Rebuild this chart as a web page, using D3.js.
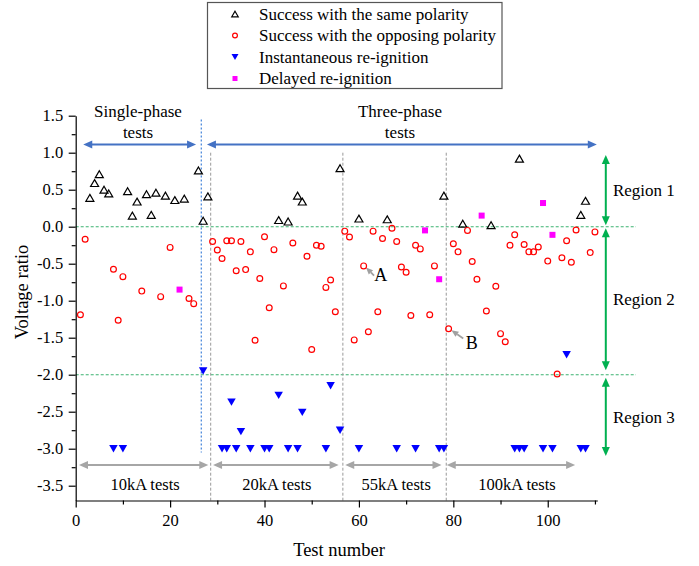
<!DOCTYPE html>
<html><head><meta charset="utf-8">
<script src="https://cdn.jsdelivr.net/npm/d3@7"></script>
<style>body{margin:0;background:#fff}</style>
</head><body>
<svg id="c" width="699" height="566" xmlns="http://www.w3.org/2000/svg"></svg>
<script>
// ---- data ----
const sameTests=[3,4,5,6,7,11,12,13,15,16,17,19,21,23,26,27,28,43,45,47,48,56,60,66,78,82,88,94,107,108];
const sameRatio=[0.39,0.59,0.71,0.50,0.45,0.48,0.15,0.34,0.44,0.16,0.46,0.42,0.36,0.38,0.76,0.08,0.41,0.09,0.07,0.42,0.34,0.79,0.11,0.10,0.42,0.04,0.02,0.92,0.16,0.35];
const oppTests=[1,2,8,9,10,14,18,20,24,25,29,30,31,32,33,34,35,36,37,38,39,40,41,42,44,46,49,50,51,52,53,54,55,57,58,59,61,62,63,64,65,67,68,69,70,71,72,73,75,76,79,80,81,83,84,85,87,89,90,91,92,93,95,96,97,98,100,102,103,104,105,106,109,110];
const oppRatio=[-1.19,-0.17,-0.575,-1.265,-0.675,-0.87,-0.945,-0.28,-0.97,-1.04,-0.20,-0.315,-0.43,-0.19,-0.19,-0.595,-0.20,-0.58,-0.34,-1.535,-0.70,-0.135,-1.095,-0.31,-0.80,-0.22,-0.40,-1.66,-0.25,-0.265,-0.82,-0.72,-1.15,-0.06,-0.14,-1.53,-0.53,-1.42,-0.06,-1.15,-0.16,-0.02,-0.20,-0.545,-0.615,-1.20,-0.25,-0.30,-1.19,-0.53,-1.38,-0.23,-0.34,-0.05,-0.47,-0.71,-1.14,-0.805,-1.445,-1.555,-0.25,-0.11,-0.24,-0.34,-0.34,-0.275,-0.465,-1.99,-0.42,-0.19,-0.48,-0.045,-0.35,-0.07];
const instTests=[8,10,27,31,32,33,34,35,37,40,41,43,45,47,48,53,54,56,60,68,72,77,78,93,94,95,99,101,104,107,108];
const instRatio=[-3,-3,-1.95,-3,-3,-2.37,-3,-2.77,-3,-3,-3,-2.28,-3,-3,-2.51,-3,-2.15,-2.75,-3,-3,-3,-3,-3,-3,-3,-3,-3,-3,-1.73,-3,-3];
const delTests=[22,74,77,86,99,101];
const delRatio=[-0.85,-0.05,-0.71,0.15,0.32,-0.11];

const legendLabels=["Success with the same polarity","Success with the opposing polarity","Instantaneous re-ignition","Delayed re-ignition"];
const xTickMajor=[0,20,40,60,80,100];
const xTickMinor=[10,30,50,70,90,110];
const yTickMajor=[1.5,1.0,0.5,0.0,-0.5,-1.0,-1.5,-2.0,-2.5,-3.0,-3.5];
const yTickLabels=["1.5","1.0","0.5","0.0","-0.5","-1.0","-1.5","-2.0","-2.5","-3.0","-3.5"];
const yTickMinor=[1.25,0.75,0.25,-0.25,-0.75,-1.25,-1.75,-2.25,-2.75,-3.25];
const phaseLabels=[{l1:"Single-phase",l2:"tests",cx:13.2,from:1.6,to:25.5},{l1:"Three-phase",l2:"tests",cx:68.7,from:27.8,to:110.4}];
const currentGroups=[{label:"10kA tests",from:0.7,to:28.1,cx:14.7},{label:"20kA tests",from:29.1,to:55.7,cx:42.6},{label:"55kA tests",from:57.1,to:77.5,cx:67.9},{label:"100kA tests",from:78.6,to:105.8,cx:93.5}];
const groupBounds=[28.6,56.6,78.5];
const phaseBound=26.6;
const regionBounds=[0,-2];
const regions=[{label:"Region 1",top:0.97,bot:0.02},{label:"Region 2",top:-0.02,bot:-1.94},{label:"Region 3",top:-2.04,bot:-3.1}];

// ---- drawing ----
const FONT='"Liberation Serif","Times New Roman",serif';
const svg=d3.select("#c");
const x=d3.scaleLinear().domain([0,110.5]).range([75.7,597.3]);
const y=d3.scaleLinear().domain([-3.7,1.5]).range([500.5,115.7]);

function triUp(s){const h=s*0.866;return `M0,${-h/2}L${s/2},${h/2}L${-s/2},${h/2}Z`;}
function triDown(s){const h=s*0.866;return `M0,${h/2}L${s/2},${-h/2}L${-s/2},${-h/2}Z`;}

// reference lines
const g0=svg.append("g");
g0.selectAll("line.rb").data(regionBounds).join("line")
  .attr("x1",x(0)).attr("x2",x(118.7)).attr("y1",d=>y(d)).attr("y2",d=>y(d))
  .attr("stroke","#3cb371").attr("stroke-width",1.1).attr("stroke-dasharray","3,2");
g0.selectAll("line.gb").data(groupBounds).join("line")
  .attr("x1",d=>x(d)).attr("x2",d=>x(d)).attr("y1",y(1.0)).attr("y2",y(-3.7))
  .attr("stroke","#999").attr("stroke-width",1).attr("stroke-dasharray","3,2");
g0.append("line").attr("x1",x(phaseBound)).attr("x2",x(phaseBound)).attr("y1",y(1.45)).attr("y2",y(-3.05))
  .attr("stroke","#2e75d6").attr("stroke-width",1.1).attr("stroke-dasharray","2,2");

// arrows helper
function dblArrowH(g,x1,x2,yy,color,w,hl,hw){
  g.append("line").attr("x1",x1+hl-1).attr("x2",x2-hl+1).attr("y1",yy).attr("y2",yy).attr("stroke",color).attr("stroke-width",w);
  g.append("path").attr("d",`M${x1},${yy}L${x1+hl},${yy-hw/2}L${x1+hl},${yy+hw/2}Z`).attr("fill",color);
  g.append("path").attr("d",`M${x2},${yy}L${x2-hl},${yy-hw/2}L${x2-hl},${yy+hw/2}Z`).attr("fill",color);
}
function dblArrowV(g,xx,y1,y2,color,w,hl,hw){
  g.append("line").attr("x1",xx).attr("x2",xx).attr("y1",y1+hl-1).attr("y2",y2-hl+1).attr("stroke",color).attr("stroke-width",w);
  g.append("path").attr("d",`M${xx},${y1}L${xx-hw/2},${y1+hl}L${xx+hw/2},${y1+hl}Z`).attr("fill",color);
  g.append("path").attr("d",`M${xx},${y2}L${xx-hw/2},${y2-hl}L${xx+hw/2},${y2-hl}Z`).attr("fill",color);
}
function arrowTo(g,x1,y1,x2,y2,color){
  const a=Math.atan2(y2-y1,x2-x1),hl=7,hw=6;
  const bx=x2-hl*Math.cos(a),by=y2-hl*Math.sin(a);
  g.append("line").attr("x1",x1).attr("y1",y1).attr("x2",bx).attr("y2",by).attr("stroke",color).attr("stroke-width",1.8);
  const px=-Math.sin(a)*hw/2,py=Math.cos(a)*hw/2;
  g.append("path").attr("d",`M${x2},${y2}L${bx+px},${by+py}L${bx-px},${by-py}Z`).attr("fill",color);
}

const ga=svg.append("g");
phaseLabels.forEach(p=>{
  dblArrowH(ga,x(p.from),x(p.to),y(1.11),"#4472c4",2,9,8);
  ga.append("text").attr("x",x(p.cx)).attr("y",117).attr("text-anchor","middle").attr("font-family",FONT).attr("font-size",17).text(p.l1);
  ga.append("text").attr("x",x(p.cx)).attr("y",138).attr("text-anchor","middle").attr("font-family",FONT).attr("font-size",17).text(p.l2);
});
currentGroups.forEach(c=>{
  dblArrowH(ga,x(c.from),x(c.to),y(-3.22),"#a6a6a6",2.2,9,8);
  ga.append("text").attr("x",x(c.cx)).attr("y",y(-3.56)).attr("text-anchor","middle").attr("font-family",FONT).attr("font-size",16.5).text(c.label);
});
regions.forEach(r=>{
  dblArrowV(ga,x(112.3),y(r.top),y(r.bot),"#00b050",2,9,8);
  ga.append("text").attr("x",x(113.8)).attr("y",(y(r.top)+y(r.bot))/2+6).attr("font-family",FONT).attr("font-size",17).text(r.label);
});
// A / B annotations
arrowTo(ga,x(63.2),y(-0.66),x(61.5),y(-0.55),"#a0a0a0");
ga.append("text").attr("x",x(64.6)).attr("y",y(-0.65)+6).attr("text-anchor","middle").attr("font-family",FONT).attr("font-size",18).text("A");
arrowTo(ga,x(82.1),y(-1.51),x(79.6),y(-1.40),"#a0a0a0");
ga.append("text").attr("x",x(83.9)).attr("y",y(-1.57)+6).attr("text-anchor","middle").attr("font-family",FONT).attr("font-size",18).text("B");

// axes
const ax=svg.append("g").attr("transform",`translate(0,${y(-3.7)})`);
ax.call(d3.axisBottom(x).tickValues(xTickMajor).tickSize(7).tickPadding(7).tickSizeOuter(0).tickFormat(d3.format("d")));
const axm=svg.append("g").attr("transform",`translate(0,${y(-3.7)})`);
axm.call(d3.axisBottom(x).tickValues(xTickMinor).tickSize(4).tickSizeOuter(0).tickFormat(""));
axm.select(".domain").remove();
const ay=svg.append("g").attr("transform",`translate(${x(0)},0)`);
ay.call(d3.axisLeft(y).tickValues(yTickMajor).tickSize(7).tickPadding(5.5).tickSizeOuter(0).tickFormat((d,i)=>yTickLabels[i]));
const aym=svg.append("g").attr("transform",`translate(${x(0)},0)`);
aym.call(d3.axisLeft(y).tickValues(yTickMinor).tickSize(4).tickFormat(""));
aym.select(".domain").remove();
svg.selectAll(".domain,.tick line").attr("stroke","#000").attr("stroke-width",1.2);
[ax,ay].forEach(a=>a.selectAll("text").attr("font-family",FONT).attr("font-size",16.5).attr("fill","#000"));

svg.append("text").attr("x",339).attr("y",556).attr("text-anchor","middle").attr("font-family",FONT).attr("font-size",18.5).text("Test number");
svg.append("text").attr("transform","translate(28,292) rotate(-90)").attr("text-anchor","middle").attr("font-family",FONT).attr("font-size",18.5).text("Voltage ratio");

// marks
const gm=svg.append("g");
gm.selectAll("path.same").data(sameTests).join("path").attr("class","same")
  .attr("transform",(d,i)=>`translate(${x(d)},${y(sameRatio[i])})`).attr("d",triUp(8))
  .attr("fill","none").attr("stroke","#000").attr("stroke-width",1.2);
gm.selectAll("circle.opp").data(oppTests).join("circle").attr("class","opp")
  .attr("cx",d=>x(d)).attr("cy",(d,i)=>y(oppRatio[i])).attr("r",2.9)
  .attr("fill","none").attr("stroke","#ff0000").attr("stroke-width",1.2);
gm.selectAll("path.inst").data(instTests).join("path").attr("class","inst")
  .attr("transform",(d,i)=>`translate(${x(d)},${y(instRatio[i])})`).attr("d",triDown(8.5))
  .attr("fill","#0000ff");
gm.selectAll("rect.del").data(delTests).join("rect").attr("class","del")
  .attr("x",d=>x(d)-3).attr("y",(d,i)=>y(delRatio[i])-3).attr("width",6).attr("height",6)
  .attr("fill","#ff00ff");

// legend
const lg=svg.append("g");
lg.append("rect").attr("x",207.5).attr("y",2.5).attr("width",294.5).attr("height",86).attr("fill","#fff").attr("stroke","#555").attr("stroke-width",1.2);
const ly=[14,35.5,57,78.5];
legendLabels.forEach((t,i)=>{
  const yy=ly[i];
  if(i===0) lg.append("path").attr("transform",`translate(235,${yy})`).attr("d",triUp(6.5)).attr("fill","none").attr("stroke","#000").attr("stroke-width",1.2);
  if(i===1) lg.append("circle").attr("cx",235).attr("cy",yy).attr("r",2.4).attr("fill","none").attr("stroke","#ff0000").attr("stroke-width",1.2);
  if(i===2) lg.append("path").attr("transform",`translate(235,${yy})`).attr("d",triDown(7)).attr("fill","#0000ff");
  if(i===3) lg.append("rect").attr("x",232.5).attr("y",yy-2.5).attr("width",5).attr("height",5).attr("fill","#ff00ff");
  lg.append("text").attr("x",259).attr("y",yy+5.5).attr("font-family",FONT).attr("font-size",17).text(t);
});
</script>
</body></html>
